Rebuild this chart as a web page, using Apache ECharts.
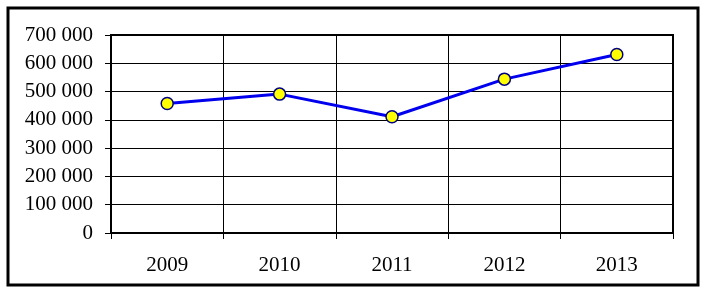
<!DOCTYPE html>
<html><head><meta charset="utf-8">
<script src="https://cdn.jsdelivr.net/npm/echarts@6/dist/echarts.min.js"></script>
<style>html,body{margin:0;padding:0;background:#fff}#c{width:706px;height:292px}</style>
</head><body><div id="c"></div>
<script>
const categories = ['2009', '2010', '2011', '2012', '2013'];
const values = [458000, 491000, 411000, 544000, 631000];
const yTicks = [0, 100000, 200000, 300000, 400000, 500000, 600000, 700000];

const chart = echarts.init(document.getElementById('c'), null, {renderer: 'canvas'});
const fmt = v => {
  const s = String(Math.round(v));
  return s.replace(/\B(?=(\d{3})+(?!\d))/g, ' ');
};
chart.setOption({
  animation: false,
  backgroundColor: '#fff',
  graphic: [{
    type: 'rect', shape: {x: 8, y: 8, width: 690, height: 277},
    style: {fill: 'none', stroke: '#000', lineWidth: 3}, z: 100
  }],
  grid: {left: 111, right: 33, top: 35, bottom: 59, show: true, borderColor: '#000', borderWidth: 2, backgroundColor: 'transparent'},
  xAxis: {
    type: 'category', data: categories, boundaryGap: true,
    axisLine: {show: true, lineStyle: {color: '#000', width: 2}},
    axisTick: {show: true, length: 6, lineStyle: {color: '#000', width: 1}},
    axisLabel: {color: '#000', fontFamily: 'Liberation Serif', fontSize: 21, margin: 22},
    splitLine: {show: true, lineStyle: {color: '#000', width: 1}}
  },
  yAxis: {
    type: 'value', min: yTicks[0], max: yTicks[yTicks.length - 1], interval: yTicks[1] - yTicks[0],
    axisLine: {show: true, lineStyle: {color: '#000', width: 2}},
    axisTick: {show: true, length: 6, lineStyle: {color: '#000', width: 1}},
    axisLabel: {color: '#000', fontFamily: 'Liberation Serif', fontSize: 21, margin: 18, formatter: fmt},
    splitLine: {show: true, lineStyle: {color: '#000', width: 1}}
  },
  series: [{
    type: 'line', data: values,
    lineStyle: {color: '#0000ee', width: 3},
    symbol: 'circle', symbolSize: 12,
    itemStyle: {color: '#ffff00', borderColor: '#000080', borderWidth: 1.5},
    z: 10
  }]
});
</script></body></html>
